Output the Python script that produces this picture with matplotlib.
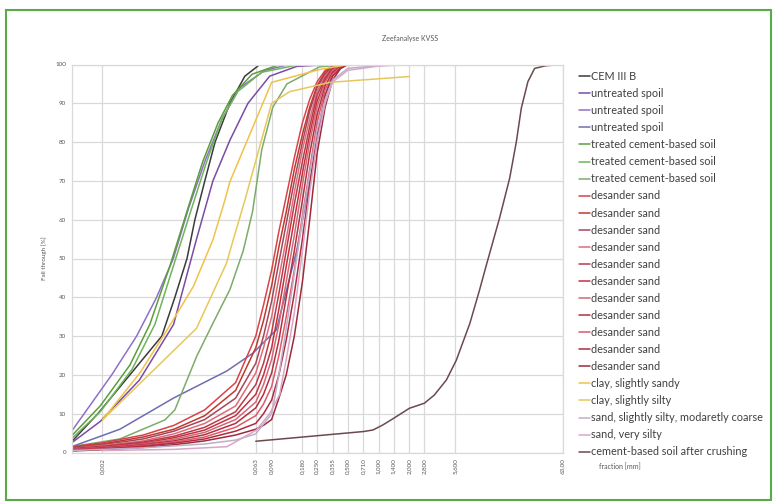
import matplotlib
matplotlib.use("Agg")
import matplotlib.pyplot as plt
from matplotlib.patches import Rectangle

plt.rcParams['font.family'] = ['Lato', 'DejaVu Sans']

# ---------------- data ----------------
title = "Zeefanalyse KVSS"
x_ticks = [0.002, 0.063, 0.09, 0.18, 0.25, 0.355, 0.5, 0.71, 1.0, 1.4, 2.0, 2.8, 5.6, 63]
x_tick_labels = ['0,002', '0,063', '0,090', '0,180', '0,250', '0,355', '0,500', '0,710',
                 '1,000', '1,400', '2,000', '2,800', '5,600', '63,00']
y_ticks = [0, 10, 20, 30, 40, 50, 60, 70, 80, 90, 100]

cem_x = [0.001, 0.0018, 0.0037, 0.0076, 0.0102, 0.0134, 0.016, 0.020, 0.0252, 0.0352, 0.0493, 0.069, 0.1]
cem_y = [2.8, 10, 20, 30, 40, 50, 60, 70, 80, 90, 97, 100, 100]

us1_x = [0.001, 0.0019, 0.0046, 0.0099, 0.0166, 0.024, 0.0352, 0.0528, 0.0862, 0.158, 0.334]
us1_y = [2.5, 8, 18.7, 33, 55, 70, 80.5, 90, 97, 99.5, 100]
us2_x = [0.001, 0.00246, 0.00431, 0.00676, 0.00985, 0.0139, 0.020, 0.0295, 0.044, 0.077, 0.135]
us2_y = [5.5, 20, 30, 40, 50, 63, 75, 86, 94, 98.5, 100]
us3_x = [0.001, 0.00296, 0.00985, 0.0328, 0.059, 0.100, 0.158, 0.227, 0.30, 0.373, 0.5]
us3_y = [1.5, 6, 14, 21, 25.6, 31.6, 52, 73.7, 92, 99, 100]

tc1_x = [0.001, 0.0019, 0.0037, 0.0058, 0.0091, 0.0137, 0.0191, 0.027, 0.0372, 0.058, 0.108]
tc1_y = [4.3, 12, 22.5, 33, 48, 63, 75, 85, 92, 97.5, 100]
tc2_x = [0.001, 0.0019, 0.0039, 0.0065, 0.0104, 0.0149, 0.0209, 0.0295, 0.0418, 0.072, 0.170]
tc2_y = [3.6, 10.5, 21.5, 33, 50, 63, 75, 86, 93, 98, 100]
tc3_x = [0.001, 0.00296, 0.00815, 0.0102, 0.0166, 0.024, 0.0352, 0.0475, 0.0585, 0.072, 0.0925, 0.127, 0.265, 0.5]
tc3_y = [1.5, 3.5, 8.4, 11, 24.7, 33.3, 42, 52, 62, 78, 89, 95, 99.4, 100]

desander_x = [0.001, 0.002, 0.005, 0.01, 0.02, 0.04, 0.063, 0.075, 0.09, 0.106,
              0.125, 0.15, 0.18, 0.212, 0.25, 0.3, 0.355, 0.425, 0.5]
d1 = [1.5, 2.5, 4.5, 7.0, 11, 18, 30, 38, 47, 57, 66, 76, 85, 91, 95.5, 98.5, 99.5, 100, 100]
d2 = [1.3, 2.2, 4.0, 6.0, 9.5, 16, 27, 34, 43, 53, 62, 73, 82, 89, 94.5, 98, 99.5, 100, 100]
d3 = [1.2, 2.0, 3.5, 5.5, 8.5, 14, 23, 30, 39, 49, 59, 70, 80, 88, 94, 97.5, 99.3, 100, 100]
d4 = [1.0, 1.8, 3.0, 4.8, 7.5, 12, 20.5, 27, 35, 45, 55, 67, 78, 86, 93, 97, 99, 100, 100]
d5 = [1.0, 1.6, 2.7, 4.2, 6.5, 10.5, 17.5, 23, 31, 41, 52, 64, 75, 84, 92, 96.5, 99, 99.8, 100]
d6 = [0.8, 1.4, 2.4, 3.8, 5.8, 9.5, 15, 20, 27, 37, 48, 60, 72, 82, 90.5, 96, 98.8, 99.8, 100]
d7 = [0.8, 1.3, 2.2, 3.4, 5.2, 8.5, 13, 17.5, 24, 33, 44, 56, 69, 80, 89, 95.5, 98.5, 99.7, 100]
d8 = [0.7, 1.2, 2.0, 3.0, 4.6, 7.5, 11.5, 15, 20.5, 29, 40, 52, 65, 77, 87, 94.5, 98, 99.5, 100]
d9 = [0.6, 1.0, 1.8, 2.7, 4.0, 6.5, 9.5, 12.5, 17, 25, 35, 47, 61, 73, 85, 93.5, 97.5, 99.3, 100]
d10 = [0.5, 0.9, 1.6, 2.4, 3.5, 5.5, 7.5, 10, 13.5, 20, 29, 41, 55, 69, 82, 92, 97, 99, 100]
d11 = [0.4, 0.7, 1.3, 2.0, 3.0, 4.5, 6.0, 7.0, 8.5, 14, 20, 30, 44, 60, 77, 89, 96, 99, 100]

clay_sandy_x = [0.002, 0.00464, 0.0082, 0.0154, 0.0240, 0.0314, 0.0352, 0.090, 0.265, 0.5, 2.0]
clay_sandy_y = [8.4, 20.5, 30.8, 42.7, 54.8, 65, 69.8, 95.4, 98.7, 100, 100]
clay_silty_x = [0.002, 0.0166, 0.0326, 0.0379, 0.0493, 0.090, 0.135, 0.334, 2.0]
clay_silty_y = [8.4, 32, 48.8, 54.8, 65, 90, 93, 95.4, 96.9]

sand_mc_x = [0.001, 0.005, 0.02, 0.04, 0.063, 0.09, 0.106, 0.125, 0.15, 0.18, 0.212, 0.25, 0.3, 0.355, 0.5, 1.0, 2.0]
sand_mc_y = [0.5, 1.2, 2.2, 3.2, 4.8, 10, 20, 32, 46, 60, 72, 83, 91, 96, 99, 99.7, 100]
sand_vs_x = [0.002, 0.01, 0.033, 0.064, 0.086, 0.108, 0.125, 0.15, 0.18, 0.212, 0.25, 0.3, 0.355, 0.5, 1.0, 2.0]
sand_vs_y = [0.5, 0.8, 1.5, 5.8, 10, 15, 24, 36, 52, 67, 80, 90, 95.5, 98.5, 99.6, 100]

crushed_x = [0.063, 0.71, 0.88, 1.1, 1.4, 2.0, 2.8, 3.5, 4.6, 5.75, 7.8, 9.7, 11.3, 15.2,
             19.1, 22.2, 24.8, 28.8, 33.5, 43.5, 63]
crushed_y = [2.9, 5.4, 5.8, 7.1, 8.8, 11.4, 12.7, 14.8, 18.7, 23.8, 33.3, 41.9, 48.3, 60.4,
             70.7, 80.1, 88.7, 95.6, 99, 99.7, 100]

series = [
    ("CEM III B", cem_x, cem_y, '#3b3b3b'),
    ("untreated spoil", us1_x, us1_y, '#7a4ca6'),
    ("untreated spoil", us2_x, us2_y, '#8f70c8'),
    ("untreated spoil", us3_x, us3_y, '#6d6db0'),
    ("treated cement-based soil", tc1_x, tc1_y, '#5c9e3c'),
    ("treated cement-based soil", tc2_x, tc2_y, '#6fb45a'),
    ("treated cement-based soil", tc3_x, tc3_y, '#7dab6a'),
    ("desander sand", desander_x, d1, '#d8434a'),
    ("desander sand", desander_x, d2, '#c0392b'),
    ("desander sand", desander_x, d3, '#a4465e'),
    ("desander sand", desander_x, d4, '#e06b76'),
    ("desander sand", desander_x, d5, '#b83a4b'),
    ("desander sand", desander_x, d6, '#c62f3b'),
    ("desander sand", desander_x, d7, '#d0687c'),
    ("desander sand", desander_x, d8, '#b52e3e'),
    ("desander sand", desander_x, d9, '#dc5a68'),
    ("desander sand", desander_x, d10, '#b02a40'),
    ("desander sand", desander_x, d11, '#9e2a3a'),
    ("clay, slightly sandy", clay_sandy_x, clay_sandy_y, '#f0c24a'),
    ("clay, slightly silty", clay_silty_x, clay_silty_y, '#e6c85a'),
    ("sand, slightly silty, modaretly coarse", sand_mc_x, sand_mc_y, '#bfaecb'),
    ("sand, very silty", sand_vs_x, sand_vs_y, '#d9a6c6'),
    ("cement-based soil after crushing", crushed_x, crushed_y, '#6b4a4e'),
]

# ---------------- figure ----------------
W, H = 778, 504
fig = plt.figure(figsize=(W / 100, H / 100), dpi=100)
ax = fig.add_axes([71.7 / W, 1 - 452.5 / H, (562.7 - 71.7) / W, (452.5 - 64.5) / H])

handles = []
for label, xs, ys, col in series:
    ln, = ax.plot(xs, ys, color=col, lw=1.1, label=label, solid_capstyle='round')
    handles.append(ln)

ax.set_xscale('log')
ax.set_xlim(0.001, 63)
ax.set_ylim(0, 100)
ax.set_xticks(x_ticks)
ax.set_xticklabels(x_tick_labels, rotation=90)
ax.xaxis.set_minor_locator(matplotlib.ticker.NullLocator())
ax.set_yticks(y_ticks)
ax.set_yticklabels([str(v) for v in y_ticks])
ax.tick_params(length=0, labelsize=4.5, colors='#595959', pad=4)
ax.grid(True, color='#d9d9d9', lw=0.9)
ax.set_axisbelow(True)
for s in ax.spines.values():
    s.set_color('#d9d9d9')
    s.set_linewidth(0.9)

ax.set_ylabel("Fall through [%]", fontsize=4.5, color='#595959', labelpad=6)
fig.text(410 / W, 1 - 38 / H, title, fontsize=5, color='#595959', ha='center', va='center')
fig.text(599 / W, 1 - 467 / H, "fraction [mm]", fontsize=5, color='#595959', ha='left', va='center')

leg = fig.legend(handles=handles, loc='upper left',
                 bbox_to_anchor=(579 / W, 1 - 71 / H), frameon=False,
                 fontsize=7.8, handlelength=1.0, handletextpad=0.15,
                 labelspacing=0.56, borderpad=0, borderaxespad=0)
for t in leg.get_texts():
    t.set_color('#404040')

fig.patches.append(Rectangle((6 / W, 1 - 500 / H), (771 - 6) / W, (500 - 10) / H,
                             transform=fig.transFigure, fill=False,
                             edgecolor='#5aaa4a', lw=1.5))

fig.savefig("out.png", dpi=100)
